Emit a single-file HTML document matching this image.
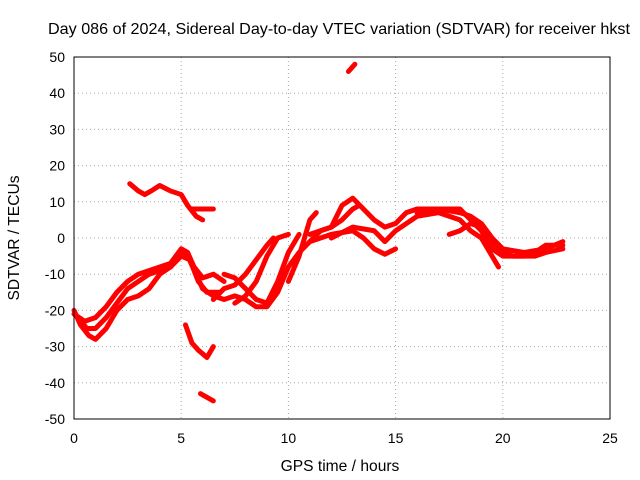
<!DOCTYPE html>
<html><head><meta charset="utf-8"><style>
body{margin:0;background:#fff}
svg{display:block;font-family:"Liberation Sans",sans-serif}
</style></head><body>
<svg id="chart" width="640" height="480" viewBox="0 0 640 480">
<text x="339" y="34" font-size="15.6" text-anchor="middle" textLength="582" lengthAdjust="spacingAndGlyphs">Day 086 of 2024, Sidereal Day-to-day VTEC variation (SDTVAR) for receiver hkst</text>
<text x="340" y="471" font-size="15.6" text-anchor="middle">GPS time / hours</text>
<text x="0" y="0" font-size="15.6" text-anchor="middle" transform="translate(19,238) rotate(-90)">SDTVAR / TECUs</text>
<g id="grid"></g>
<g id="ticks"></g>
<g id="series"></g>
<rect x="74" y="57" width="536" height="362" fill="none" stroke="#000" stroke-width="1"/>
</svg>
<script>
const xTicks=[0,5,10,15,20,25];
const yTicks=[50,40,30,20,10,0,-10,-20,-30,-40,-50];
const track1=[[0,-20],[0.3,-24],[0.7,-27],[1.0,-28],[1.5,-25],[2,-20],[2.5,-17],[3,-16],[3.5,-14],[4,-10],[4.5,-8],[5,-4],[5.3,-5],[5.7,-10],[6,-14],[6.5,-16],[7,-17],[7.5,-16],[8,-17],[8.5,-19],[9,-19],[9.5,-15],[10,-8],[10.5,-4],[11,-1],[11.5,2],[12,3],[12.5,5],[13,8],[13.3,9]];
const track2=[[0,-21],[0.5,-23],[1,-22],[1.5,-19],[2,-15],[2.5,-12],[3,-10],[3.5,-9],[4,-8],[4.5,-7],[5,-3],[5.3,-4],[5.6,-8],[6,-11],[6.5,-10],[7,-12]];
const track2b=[[0.2,-22],[0.6,-25],[1,-25],[1.5,-22],[2,-18],[2.5,-14],[3,-12],[3.5,-10],[4,-9],[4.5,-8],[5,-5],[5.4,-6],[5.8,-12],[6.2,-15],[6.8,-15]];
const track3=[[2.6,15],[3,13],[3.3,12],[3.6,13],[4,14.5],[4.5,13],[5,12],[5.3,9],[5.7,6],[6,5]];
const track3b=[[5.5,8],[6,8],[6.5,8]];
const track4=[[5.2,-24],[5.5,-29],[5.8,-31],[6.2,-33],[6.5,-30]];
const track5=[[5.9,-43],[6.2,-44],[6.5,-45]];
const track6=[[12.8,46],[13.1,48]];
const track7=[[6.5,-17],[7,-14],[7.5,-13],[8,-10],[8.5,-6],[9,-2],[9.3,0]];
const track8=[[7.5,-18],[8,-16],[8.5,-12],[9,-5],[9.5,0],[10,1]];
const track8b=[[7,-10],[7.5,-11],[8,-14],[8.5,-17],[9,-18],[9.5,-12],[10,-4],[10.5,1]];
const track9=[[10,-12],[10.5,-5],[11,5],[11.3,7]];
const track10=[[11,1],[12,3],[12.5,9],[13,11],[13.5,8],[14,5],[14.5,3],[15,4],[15.5,7],[16,8],[16.5,8],[17,8],[17.5,8],[18,8],[18.5,5],[19,2],[19.5,-3],[20,-5],[20.5,-5],[21,-5],[21.5,-4],[22,-2],[22.8,-2]];
const track11=[[11,-1],[12,1],[13,2],[13.5,0],[14,-3],[14.5,-4.5],[15,-3]];
const track12=[[12,0],[13,3],[14,2],[14.5,-1],[15,2],[15.5,4],[16,6],[17,7],[18,5],[18.5,2],[19,0],[19.5,-5],[19.8,-8]];
const track13=[[17.5,1],[18,2],[18.5,4],[19,3],[19.5,-1],[20,-4],[20.5,-5],[21.5,-5],[22,-4],[22.8,-3]];
const track14=[[16,7],[17,8],[18,7],[18.5,6],[19,4],[19.5,0],[20,-3],[21,-4],[22,-3],[22.8,-1]];
const tracks=[track1,track2,track2b,track3,track3b,track4,track5,track6,track7,track8,track8b,track9,track10,track11,track12,track13,track14];
const NS="http://www.w3.org/2000/svg";
const X=v=>74+v*(536/25), Y=v=>238-v*(362/100);
const grid=document.getElementById('grid'),ticks=document.getElementById('ticks'),ser=document.getElementById('series');
function mk(t,a,p){const e=document.createElementNS(NS,t);for(const k in a)e.setAttribute(k,a[k]);p.appendChild(e);return e;}
xTicks.forEach(v=>{
 const g=mk('line',{x1:X(v),x2:X(v),y1:57,y2:419,stroke:'#aaa','stroke-dasharray':'1,3'},grid);
 
 
 const t=mk('text',{x:X(v),y:443,'font-size':14,'text-anchor':'middle'},ticks);t.textContent=v;
 
 
});
yTicks.forEach(v=>{
 const g=mk('line',{x1:74,x2:610,y1:Y(v),y2:Y(v),stroke:'#aaa','stroke-dasharray':'1,3'},grid);
 
 
 const t=mk('text',{x:65,y:Y(v)+5,'font-size':14,'text-anchor':'end'},ticks);t.textContent=v;
 
 
});
tracks.forEach(tr=>{
 const p=mk('polyline',{points:tr.map(d=>X(d[0])+','+Y(d[1])).join(' '),fill:'none',stroke:'#f00','stroke-width':5,'stroke-linejoin':'round','stroke-linecap':'round'},ser);
 
 
});
</script>
</body></html>
